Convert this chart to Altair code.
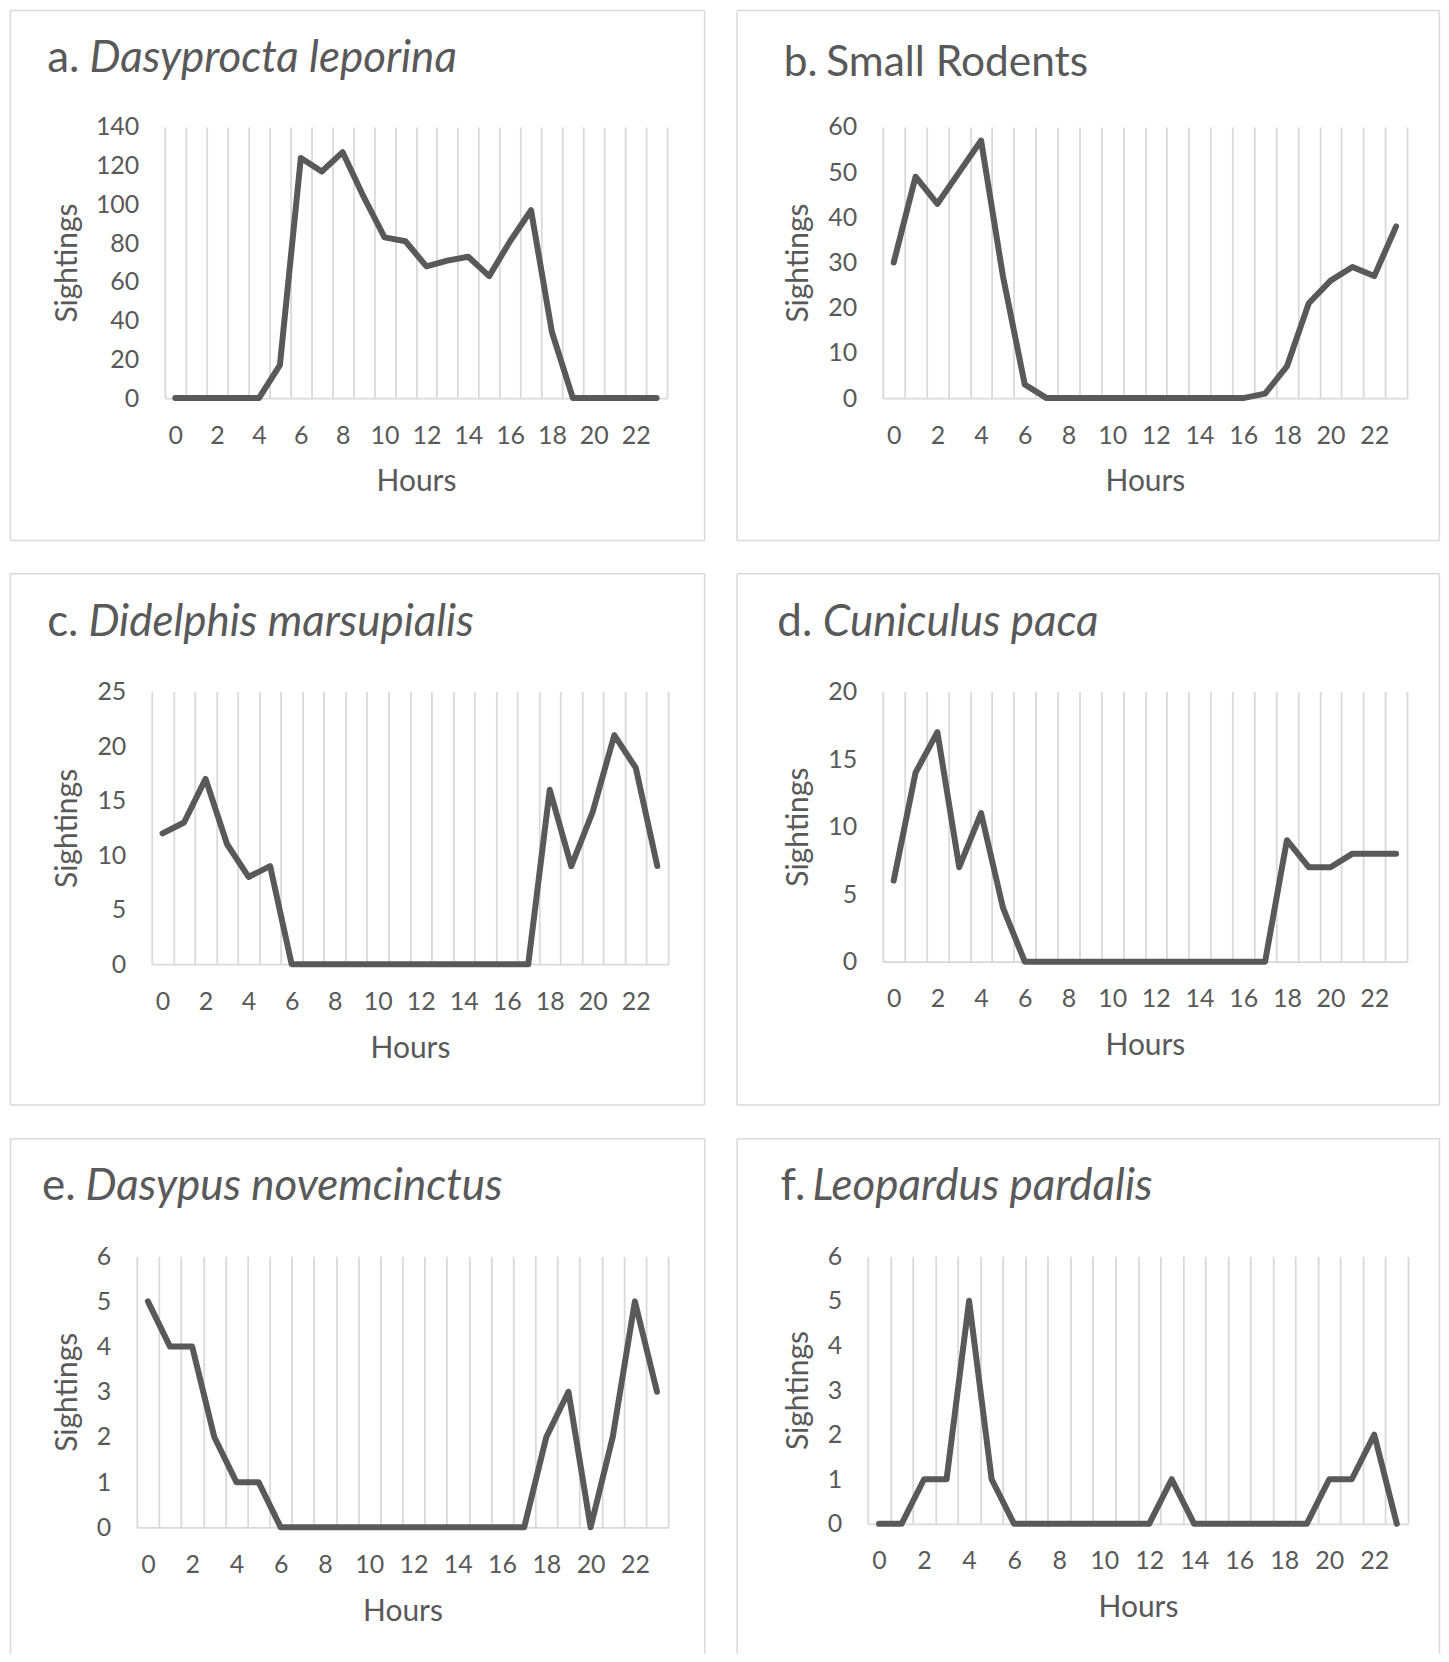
import altair as alt
import pandas as pd

# ---------------- data ----------------
hours = list(range(24))
dasyprocta = [0, 0, 0, 0, 0, 17, 124, 117, 127, 104, 83, 81, 68, 71, 73, 63, 81, 97, 34, 0, 0, 0, 0, 0]
rodents = [30, 49, 43, 50, 57, 27, 3, 0, 0, 0, 0, 0, 0, 0, 0, 0, 0, 1, 7, 21, 26, 29, 27, 38]
didelphis = [12, 13, 17, 11, 8, 9, 0, 0, 0, 0, 0, 0, 0, 0, 0, 0, 0, 0, 16, 9, 14, 21, 18, 9]
cuniculus = [6, 14, 17, 7, 11, 4, 0, 0, 0, 0, 0, 0, 0, 0, 0, 0, 0, 0, 9, 7, 7, 8, 8, 8]
dasypus = [5, 4, 4, 2, 1, 1, 0, 0, 0, 0, 0, 0, 0, 0, 0, 0, 0, 0, 2, 3, 0, 2, 5, 3]
leopardus = [0, 0, 1, 1, 5, 1, 0, 0, 0, 0, 0, 0, 0, 1, 0, 0, 0, 0, 0, 0, 1, 1, 2, 0]

series = [dasyprocta, rodents, didelphis, cuniculus, dasypus, leopardus]
prefixes = ["a.", "b.", "c.", "d.", "e.", "f."]
names = ["Dasyprocta leporina", "Small Rodents", "Didelphis marsupialis",
         "Cuniculus paca", "Dasypus novemcinctus", "Leopardus pardalis"]
italic = [True, False, True, True, True, True]
y_max = [140, 60, 25, 20, 6, 6]
y_step = [20, 10, 5, 5, 1, 1]
x_label_values = list(range(0, 24, 2))
x_title = "Hours"
y_title = "Sightings"

# ---------------- layout (absolute page px) ----------------
# frame = (left, top, right, bottom) of panel border; bottom None -> open (runs off page)
LAYOUT = [
    dict(plot=(164.4, 125.5, 503, 271.5), frame=(9.75, 8.75, 705.0, 539.5), gap=31.0,
         px=46.6, nx=89.0, base=70.0, yt=66.8, fs=44),
    dict(plot=(882.6, 125.5, 525, 271.5), frame=(736.7, 8.75, 1440.0, 539.5), gap=0,
         px=783.4, nx=826.0, base=74.5, yt=798.2, fs=42.5),
    dict(plot=(151.4, 690.5, 517, 273.0), frame=(9.75, 572.4, 705.0, 1104.4), gap=31.0,
         px=46.6, nx=87.9, base=635.0, yt=66.8, fs=44),
    dict(plot=(882.6, 690.5, 525, 270.5), frame=(736.7, 572.4, 1440.0, 1104.4), gap=0,
         px=777.0, nx=822.6, base=635.0, yt=798.2, fs=44),
    dict(plot=(136.2, 1255.0, 532, 271.5), frame=(9.75, 1137.3, 705.0, None), gap=31.0,
         px=41.3, nx=84.8, base=1199.0, yt=66.8, fs=44),
    dict(plot=(867.5, 1255.0, 541, 268.0), frame=(736.7, 1137.3, 1440.0, None), gap=0,
         px=780.2, nx=812.0, base=1199.0, yt=798.2, fs=44),
]
OPEN_BOTTOM = 1653.0

FONT = "Lato"
TXT = "#595959"
GRID = "#d9d9d9"
LINE = "#595959"

ONE = pd.DataFrame({"k": [1]})


def edge(x1, y1, x2, y2, opacity=1.0):
    return alt.Chart(ONE).mark_rule(
        color=GRID, strokeWidth=1.5, opacity=opacity
    ).encode(x=alt.value(x1), x2=alt.value(x2), y=alt.value(y1), y2=alt.value(y2))


def panel(i):
    lay = LAYOUT[i]
    px0, py0, W, H = lay["plot"]
    fl, ft, fr, fb = lay["frame"]
    l, t, r = fl - px0, ft - py0, fr - px0
    b = (fb if fb is not None else OPEN_BOTTOM) - py0
    df = pd.DataFrame({"hour": hours, "sightings": series[i]})

    grid_values = [h - 0.5 for h in range(25)]
    x_axis = alt.Axis(
        values=grid_values + x_label_values,
        title=x_title,
        grid=True,
        gridColor=GRID,
        gridWidth=1.8,
        gridOpacity={"condition": {"test": "datum.value % 1 !== 0", "value": 1}, "value": 0},
        labelExpr="datum.value % 2 === 0 ? format(datum.value, 'd') : ''",
        ticks=False,
        tickSize=0,
        domain=True,
        domainColor=GRID,
        domainWidth=1.8,
        labelOverlap=False,
        labelFlush=False,
        labelPadding=37,
        labelBaseline="middle",
        labelFont=FONT,
        labelFontSize=25,
        labelColor=TXT,
        titleFont=FONT,
        titleFontSize=30,
        titleFontWeight="normal",
        titleColor=TXT,
        titleY=84,
        titleBaseline="middle",
    )
    y_axis = alt.Axis(
        values=list(range(0, y_max[i] + 1, y_step[i])),
        title=y_title,
        grid=False,
        domain=False,
        ticks=False,
        tickSize=0,
        labelPadding=26,
        labelFont=FONT,
        labelFontSize=25,
        labelColor=TXT,
        titleFont=FONT,
        titleFontSize=30,
        titleFontWeight="normal",
        titleColor=TXT,
        titleX=lay["yt"] - px0,
        titleBaseline="middle",
    )

    line = alt.Chart(df).mark_line(
        color=LINE, strokeWidth=6, strokeCap="round", strokeJoin="round"
    ).encode(
        x=alt.X("hour:Q", scale=alt.Scale(domain=[-0.5, 23.5], nice=False, zero=False), axis=x_axis),
        y=alt.Y("sightings:Q", scale=alt.Scale(domain=[0, y_max[i]], nice=False), axis=y_axis),
    )

    layers = [
        edge(l, t, r, t),   # top
        edge(l, t, l, b),   # left
        edge(r, t, r, b),   # right
    ]
    if fb is not None:
        layers.append(edge(l, b, r, b))  # bottom
    if lay["gap"] > 0:
        # invisible spacer that reserves the gap to the right-hand panel
        layers.append(edge(r, t + 10, r + lay["gap"], t + 10, opacity=0))

    pre = alt.Chart(pd.DataFrame({"label": [prefixes[i]]})).mark_text(
        align="left", baseline="alphabetic", font=FONT, fontSize=lay["fs"], color=TXT
    ).encode(x=alt.value(lay["px"] - px0), y=alt.value(lay["base"] - py0), text="label:N")

    nm = alt.Chart(pd.DataFrame({"label": [names[i]]})).mark_text(
        align="left", baseline="alphabetic", font=FONT, fontSize=lay["fs"], color=TXT,
        fontStyle="italic" if italic[i] else "normal",
    ).encode(x=alt.value(lay["nx"] - px0), y=alt.value(lay["base"] - py0), text="label:N")

    return alt.layer(*layers, line, pre, nm).properties(width=W, height=H)


def spacer():
    return alt.Chart(ONE).mark_rule(opacity=0, strokeWidth=0.5).encode(
        x=alt.value(0.5), y=alt.value(0), y2=alt.value(1)
    ).properties(width=1, height=1)


rows = [
    alt.hconcat(spacer(), panel(0), panel(1), spacing=0),
    alt.hconcat(spacer(), panel(2), panel(3), spacing=0),
    alt.hconcat(spacer(), panel(4), panel(5), spacing=0),
]

chart = alt.vconcat(*rows, spacing=31.4).properties(
    padding=0, background="white"
).configure_view(stroke=None)

chart.save("out.html", embed_options={"renderer": "svg", "actions": False})
